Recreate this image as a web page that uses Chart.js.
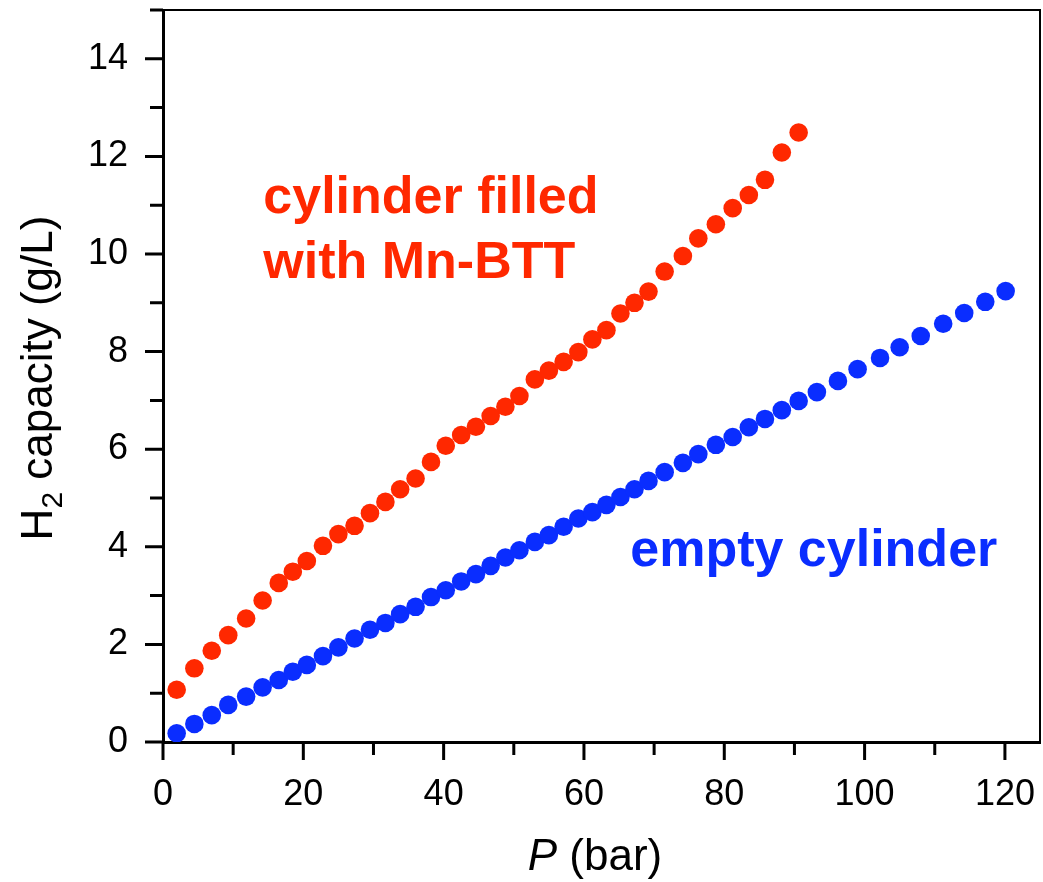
<!DOCTYPE html>
<html>
<head>
<meta charset="utf-8">
<script src="https://cdn.jsdelivr.net/npm/chart.js@4.4.1/dist/chart.umd.min.js"></script>
<style>
  html, body { margin: 0; padding: 0; background: #fff; }
  #wrap { width: 1043px; height: 882px; position: relative; }
</style>
</head>
<body>
<div id="wrap"><canvas id="h2Chart"></canvas></div>
<script>
// pressure (bar) of each measurement
const pressure = [1.95, 4.47, 6.95, 9.3, 11.85, 14.2, 16.5, 18.5, 20.5, 22.8,
  25.0, 27.3, 29.5, 31.7, 33.8, 36.0, 38.2, 40.3, 42.5, 44.6,
  46.7, 48.8, 50.8, 53.0, 55.0, 57.1, 59.2, 61.2, 63.2, 65.2,
  67.2, 69.2, 71.5, 74.1, 76.3, 78.8, 81.2, 83.5, 85.8, 88.2,
  90.6, 93.2, 96.2, 99.0, 102.2, 105.0, 108.0, 111.2, 114.2, 117.2, 120.1];

// H2 capacity (g/L)
const filledCapacity = [1.07, 1.51, 1.87, 2.19, 2.53, 2.90, 3.26, 3.49, 3.71, 4.02,
  4.26, 4.43, 4.69, 4.92, 5.18, 5.40, 5.74, 6.07, 6.29, 6.46,
  6.68, 6.87, 7.09, 7.43, 7.61, 7.79, 7.99, 8.25, 8.44, 8.78,
  9.00, 9.23, 9.64, 9.96, 10.32, 10.61, 10.94, 11.21, 11.52, 12.08, 12.49];

const emptyCapacity = [0.18, 0.37, 0.55, 0.76, 0.93, 1.12, 1.27, 1.44, 1.58, 1.76,
  1.94, 2.12, 2.30, 2.44, 2.62, 2.77, 2.97, 3.11, 3.29, 3.44,
  3.61, 3.78, 3.93, 4.10, 4.24, 4.41, 4.58, 4.71, 4.86, 5.02,
  5.18, 5.35, 5.53, 5.72, 5.90, 6.09, 6.25, 6.45, 6.62, 6.80,
  6.99, 7.17, 7.40, 7.64, 7.87, 8.09, 8.32, 8.57, 8.79, 9.02, 9.24];

const xTicks = [0, 20, 40, 60, 80, 100, 120];
const yTicks = [0, 2, 4, 6, 8, 10, 12, 14];
const xMinorTicks = [10, 30, 50, 70, 90, 110];
const yMinorTicks = [1, 3, 5, 7, 9, 11, 13, 15];

const RED = 'rgb(255, 40, 0)';
const BLUE = 'rgb(10, 45, 255)';
const FONT = '"Liberation Sans", Arial, Helvetica, sans-serif';

const toPoints = (ys) => ys.map((y, i) => ({ x: pressure[i], y: y }));

// no extra room for labels at the scale ends, the frame is fixed
const noScalePadding = (s) => {
  s.paddingTop = 0; s.paddingBottom = 0;
  s.paddingLeft = 0; s.paddingRight = 0;
};

// frame, minor/major tick marks, axis titles and the in-plot labels
const decorations = {
  id: 'decorations',
  afterDraw(chart) {
    const ctx = chart.ctx;
    const area = chart.chartArea;
    const xs = chart.scales.x;
    const ys = chart.scales.y;
    ctx.save();
    ctx.strokeStyle = '#000';

    // top and right border (thinner)
    ctx.lineWidth = 2;
    ctx.beginPath();
    ctx.moveTo(area.left, area.top);
    ctx.lineTo(area.right, area.top);
    ctx.lineTo(area.right, area.bottom);
    ctx.stroke();

    // ticks outward
    ctx.lineWidth = 3;
    ctx.beginPath();
    xTicks.forEach(v => {
      const px = xs.getPixelForValue(v);
      ctx.moveTo(px, area.bottom); ctx.lineTo(px, area.bottom + 18);
    });
    xMinorTicks.forEach(v => {
      const px = xs.getPixelForValue(v);
      ctx.moveTo(px, area.bottom); ctx.lineTo(px, area.bottom + 13);
    });
    yTicks.forEach(v => {
      const py = ys.getPixelForValue(v);
      ctx.moveTo(area.left, py); ctx.lineTo(area.left - 18, py);
    });
    yMinorTicks.forEach(v => {
      const py = ys.getPixelForValue(v);
      ctx.moveTo(area.left, py); ctx.lineTo(area.left - 13, py);
    });
    ctx.stroke();

    // x title: italic P (bar)
    ctx.fillStyle = '#000';
    ctx.textBaseline = 'alphabetic';
    ctx.font = 'italic 44px ' + FONT;
    const pW = ctx.measureText('P').width;
    ctx.font = '44px ' + FONT;
    const restW = ctx.measureText(' (bar)').width;
    const xt = 595 - (pW + restW) / 2;
    ctx.font = 'italic 44px ' + FONT;
    ctx.textAlign = 'left';
    ctx.fillText('P', xt, 870);
    ctx.font = '44px ' + FONT;
    ctx.fillText(' (bar)', xt + pW, 870);

    // y title: H2 capacity (g/L), rotated
    ctx.save();
    ctx.translate(52, 378);
    ctx.rotate(-Math.PI / 2);
    ctx.font = '44px ' + FONT;
    const hW = ctx.measureText('H').width;
    const tail = ' capacity (g/L)';
    const tailW = ctx.measureText(tail).width;
    ctx.font = '30px ' + FONT;
    const subW = ctx.measureText('2').width;
    const total = hW + subW + tailW;
    let cx = -total / 2;
    ctx.font = '44px ' + FONT;
    ctx.fillText('H', cx, 0);
    cx += hW;
    ctx.font = '30px ' + FONT;
    ctx.fillText('2', cx, 10);
    cx += subW;
    ctx.font = '44px ' + FONT;
    ctx.fillText(tail, cx, 0);
    ctx.restore();

    // in-plot labels
    ctx.font = 'bold 52px ' + FONT;
    ctx.fillStyle = RED;
    ctx.fillText('cylinder filled', xs.getPixelForValue(14.3), ys.getPixelForValue(10.84));
    ctx.fillText('with Mn-BTT', xs.getPixelForValue(14.3), ys.getPixelForValue(9.51));
    ctx.fillStyle = BLUE;
    ctx.fillText('empty cylinder', xs.getPixelForValue(66.6), ys.getPixelForValue(3.61));

    ctx.restore();
  }
};

new Chart(document.getElementById('h2Chart'), {
  type: 'scatter',
  data: {
    datasets: [
      {
        label: 'cylinder filled with Mn-BTT',
        data: toPoints(filledCapacity),
        backgroundColor: RED,
        borderWidth: 0,
        pointRadius: 9.3,
      },
      {
        label: 'empty cylinder',
        data: toPoints(emptyCapacity),
        backgroundColor: BLUE,
        borderWidth: 0,
        pointRadius: 9.3,
      },
    ],
  },
  options: {
    responsive: true,
    maintainAspectRatio: false,
    animation: false,
    layout: { autoPadding: false, padding: { top: 10, right: 3, left: 0, bottom: 0 } },
    plugins: {
      legend: { display: false },
      tooltip: { enabled: false },
    },
    scales: {
      x: {
        type: 'linear',
        min: 0,
        max: 125,
        afterBuildTicks: (s) => { s.ticks = xTicks.map(v => ({ value: v })); },
        afterFit: (s) => { s.height = 140; noScalePadding(s); },
        grid: { display: false, drawTicks: false },
        border: { display: true, color: '#000', width: 3 },
        ticks: {
          padding: 31,
          maxRotation: 0,
          color: '#000',
          font: { family: FONT, size: 36 },
        },
      },
      y: {
        type: 'linear',
        min: 0,
        max: 15,
        afterBuildTicks: (s) => { s.ticks = yTicks.map(v => ({ value: v })); },
        afterFit: (s) => { s.width = 163; noScalePadding(s); },
        grid: { display: false, drawTicks: false },
        border: { display: true, color: '#000', width: 3 },
        ticks: {
          padding: 35,
          color: '#000',
          font: { family: FONT, size: 36 },
        },
      },
    },
  },
  plugins: [decorations],
});
</script>
</body>
</html>
